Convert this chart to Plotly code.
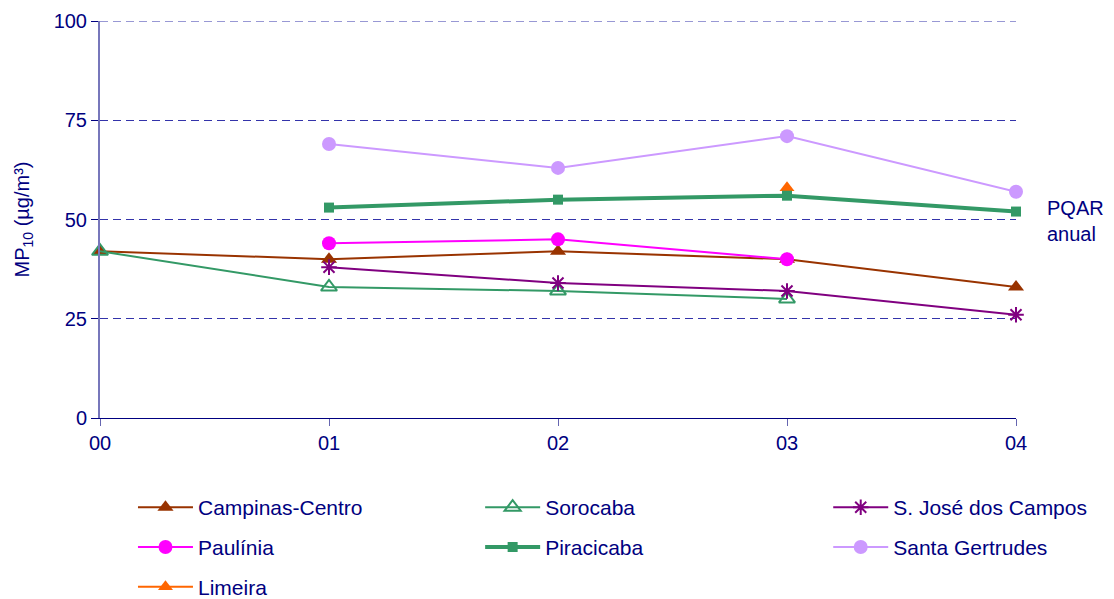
import plotly.graph_objects as go

years = ["00", "01", "02", "03", "04"]
xpos = [0, 1, 2, 3, 4]

campinas = [42, 40, 42, 40, 33]
sorocaba = [42, 33, 32, 30, None]
sjc = [None, 38, 34, 32, 26]
paulinia = [None, 44, 45, 40, None]
piracicaba = [None, 53, 55, 56, 52]
santa_gertrudes = [None, 69, 63, 71, 57]
limeira = [None, None, None, 58, None]

NAVY = "#000080"
FONT = "Liberation Sans, Arial, sans-serif"

fig = go.Figure()

def add(name, y, color, symbol, msize, lwidth, legend, group, mline=None):
    marker = dict(symbol=symbol, size=msize, color=color)
    if mline is not None:
        marker["line"] = dict(color=color, width=mline)
    fig.add_trace(go.Scatter(
        x=xpos, y=y, name=name, mode="lines+markers",
        line=dict(color=color, width=lwidth),
        marker=marker, connectgaps=False, cliponaxis=False,
        legend=legend, legendgroup=group,
    ))

add("Campinas-Centro", campinas, "#993300", "triangle-up", 14, 2, "legend", "a")
add("Paulínia", paulinia, "#FF00FF", "circle", 14, 2, "legend", "b")
add("Limeira", limeira, "#FF6600", "triangle-up", 13, 2, "legend", "c")
add("Sorocaba", sorocaba, "#339966", "triangle-up-open", 14, 2, "legend2", "d", mline=2)
add("Piracicaba", piracicaba, "#339966", "square", 10, 4, "legend2", "e")
add("S. José dos Campos", sjc, "#800080", "asterisk-open", 13, 2, "legend3", "f", mline=2)
add("Santa Gertrudes", santa_gertrudes, "#CC99FF", "circle", 14, 2, "legend3", "g")

leg_common = dict(
    orientation="v", xanchor="left", yanchor="top", y=-0.174,
    font=dict(family=FONT, size=21, color=NAVY),
    bgcolor="rgba(0,0,0,0)", tracegroupgap=9.5, traceorder="grouped",
    itemwidth=55,
)

fig.update_layout(
    width=1114, height=599,
    margin=dict(l=100, r=98, t=21, b=181, autoexpand=False),
    plot_bgcolor="white", paper_bgcolor="white",
    font=dict(family=FONT, size=20, color=NAVY),
    showlegend=True,
    legend=dict(x=0.036, **leg_common),
    legend2=dict(x=0.415, **leg_common),
    legend3=dict(x=0.795, **leg_common),
    xaxis=dict(
        range=[0, 4], tickvals=xpos, ticktext=years,
        showgrid=False, zeroline=False,
        showline=True, linecolor=NAVY, linewidth=1,
        ticks="outside", ticklen=7, tickcolor="#6666b0",
        tickfont=dict(family=FONT, size=20, color=NAVY),
    ),
    yaxis=dict(
        range=[0, 100], tickvals=[0, 25, 50, 75, 100],
        showgrid=True, gridcolor="#3333aa", griddash="8px,5px", gridwidth=1,
        zeroline=False,
        showline=True, linecolor="#7777bb", linewidth=2,
        ticks="outside", ticklen=7, tickcolor=NAVY,
        tickfont=dict(family=FONT, size=20, color=NAVY),
        title=dict(text="MP<sub>10</sub> (µg/m³)", font=dict(family=FONT, size=20, color=NAVY), standoff=19),
    ),
    shapes=[dict(
        type="line", xref="paper", x0=0, x1=1, yref="y", y0=100, y1=100,
        line=dict(color="#3333aa", width=1, dash="8px,5px"), layer="above",
    )],
    annotations=[dict(
        text="PQAR<br>anual", x=1.032, xref="paper", xanchor="left",
        y=49.5, yref="y", yanchor="middle", showarrow=False, align="left",
        font=dict(family=FONT, size=20, color=NAVY),
    )],
)

fig.write_html("out.html", config={"displayModeBar": False},
               post_script="document.body.style.margin='0';")
